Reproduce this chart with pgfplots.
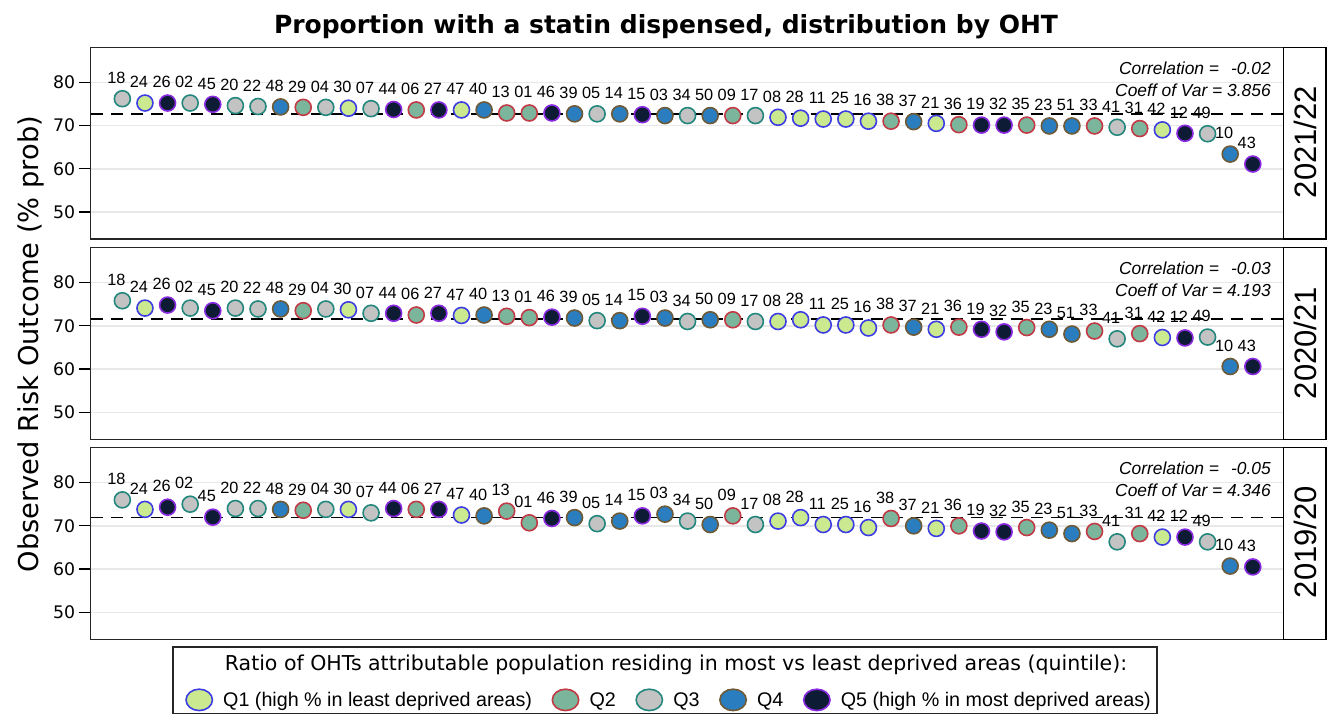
\documentclass[border=0pt]{standalone}
\usepackage{fontspec}
\setmainfont{Liberation Sans}
\newfontfamily\dv{DejaVu Sans}
\usepackage{pgfplots}
\usepackage{pgfplotstable}
\pgfplotsset{compat=1.18}
\definecolor{q1f}{HTML}{CBEA8F}\definecolor{q1e}{HTML}{3D3DE3}
\definecolor{q2f}{HTML}{7AB59C}\definecolor{q2e}{HTML}{C23A45}
\definecolor{q3f}{HTML}{C3C3C3}\definecolor{q3e}{HTML}{23877D}
\definecolor{q4f}{HTML}{2A7DBE}\definecolor{q4e}{HTML}{6E5A37}
\definecolor{q5f}{HTML}{0D1B35}\definecolor{q5e}{HTML}{8A2BE2}
% columns: position, OHT label, 2021/22, 2020/21, 2019/20
\pgfplotstableread{
i lab y1 y2 y3
2 24 75.2 74.1 73.8
11 30 74.0 73.7 73.8
16 47 73.6 72.4 72.5
30 08 71.9 71.0 71.1
31 28 71.7 71.4 71.9
32 11 71.5 70.2 70.3
33 25 71.5 70.2 70.3
34 16 71.0 69.5 69.6
37 21 70.5 69.2 69.4
47 42 69.0 67.3 67.4
}\tQa
\pgfplotstableread{
i lab y1 y2 y3
9 29 74.2 73.5 73.6
14 06 73.6 72.5 73.8
18 13 72.9 72.2 73.4
19 01 72.9 71.9 70.7
28 09 72.3 71.4 72.3
35 38 71.0 70.2 71.7
38 36 70.2 69.7 70.0
41 35 70.1 69.6 69.6
44 33 69.9 68.8 68.7
46 31 69.3 68.2 68.2
}\tQb
\pgfplotstableread{
i lab y1 y2 y3
1 18 76.2 75.8 76.0
4 02 75.2 74.1 75.0
6 20 74.6 74.1 74.0
7 22 74.4 73.9 74.0
10 04 74.2 73.9 73.8
12 07 73.9 72.9 73.0
22 05 72.7 71.2 70.5
26 34 72.3 71.0 71.1
29 17 72.3 71.0 70.3
45 41 69.6 67.0 66.3
49 49 68.1 67.4 66.3
}\tQc
\pgfplotstableread{
i lab y1 y2 y3
8 48 74.3 73.9 73.8
17 40 73.6 72.5 72.3
21 39 72.7 71.8 71.9
23 14 72.7 71.2 71.1
25 03 72.3 71.8 72.7
27 50 72.3 71.4 70.3
36 37 70.9 69.7 70.0
42 23 69.9 69.2 69.0
43 51 69.9 68.1 68.2
50 10 63.4 60.6 60.7
}\tQd
\pgfplotstableread{
i lab y1 y2 y3
3 26 75.2 74.8 74.3
5 45 74.9 73.5 72.0
13 44 73.7 72.9 74.0
15 27 73.6 72.9 73.8
20 46 72.9 72.0 71.7
24 15 72.5 72.2 72.3
39 19 70.1 69.2 68.8
40 32 70.1 68.6 68.6
48 12 68.2 67.2 67.4
51 43 61.1 60.6 60.5
}\tQe
\pgfplotsset{
 panel/.style={scale only axis, width=1192.6pt, height=191.7pt,
  xmin=-0.4, xmax=52.35, ymin=43.77, ymax=88.08,
  xtick=\empty, ytick={50,60,70,80}, ymajorgrids,
  grid style={line width=1.5pt, color=black!9},
  tick align=outside, ytick pos=left, major tick length=12pt,
  tick style={line width=1.2pt, black},
  axis line style={line width=1.3pt, black!85},
  yticklabel style={font=\dv\fontsize{17.3}{18}\selectfont},
  /pgf/number format/assume math mode=true, anchor=south west},
 pts/.style={only marks, mark=*, mark size=8pt, point meta=explicit symbolic,
  nodes near coords,
  nodes near coords style={anchor=center, xshift=-6pt, yshift=20.85pt, inner sep=0pt, text=black, font=\fontsize{16.3}{17}\selectfont},
  forget plot},
 qa/.style={pts, mark options={draw=q1e, fill=q1f, line width=1.6pt}},
 qb/.style={pts, mark options={draw=q2e, fill=q2f, line width=1.6pt}},
 qc/.style={pts, mark options={draw=q3e, fill=q3f, line width=1.6pt}},
 qd/.style={pts, mark options={draw=q4e, fill=q4f, line width=1.6pt}},
 qe/.style={pts, mark options={draw=q5e, fill=q5f, line width=1.6pt}},
 mean/.style={black, line width=1.3pt, dash pattern=on 12pt off 8pt, forget plot}
}
\newcommand\pts[1]{%
\addplot[qa] table[x=i, y=#1, meta=lab]{\tQa};
\addplot[qb] table[x=i, y=#1, meta=lab]{\tQb};
\addplot[qc] table[x=i, y=#1, meta=lab]{\tQc};
\addplot[qd] table[x=i, y=#1, meta=lab]{\tQd};
\addplot[qe] table[x=i, y=#1, meta=lab]{\tQe};}
\begin{document}
\begin{tikzpicture}
\path[use as bounding box] (0,0) rectangle (1331pt,-715pt);
\node[anchor=base, font=\dv\bfseries\fontsize{25}{27}\selectfont] at (666pt,-33.3pt) {Proportion with a statin dispensed, distribution by OHT};
\node[rotate=90, anchor=base, font=\dv\fontsize{27.3}{30}\selectfont] at (38pt,-344pt) {Observed Risk Outcome (\% prob)};
% panel 1
\begin{axis}[panel, at={(90.7pt,-239pt)}]
\pts{y1}
\addplot[mean] coordinates {(-0.4,72.63) (52.35,72.63)};
\end{axis}
% panel 2
\begin{axis}[panel, at={(90.7pt,-439.3pt)}]
\pts{y2}
\addplot[mean] coordinates {(-0.4,71.55) (52.35,71.55)};
\end{axis}
% panel 3
\begin{axis}[panel, at={(90.7pt,-639.3pt)},
 legend style={at={(axis description cs:0.0791,-0.316)}, anchor=west, draw=none, fill=none, inner sep=0pt,
  legend columns=5, font=\fontsize{19.7}{22}\selectfont, nodes={inner sep=0pt}, cells={anchor=west},
  /tikz/every odd column/.append style={column sep=10pt},
  /tikz/every even column/.append style={column sep=19.5pt}}]
\addlegendimage{legend image code/.code={\draw[draw=q1e, fill=q1f, line width=1.6pt] (14pt,0pt) ellipse [x radius=13.2pt, y radius=10.7pt];}}
\addlegendentry{Q1 (high \% in least deprived areas)}
\addlegendimage{legend image code/.code={\draw[draw=q2e, fill=q2f, line width=1.6pt] (14pt,0pt) ellipse [x radius=13.2pt, y radius=10.7pt];}}
\addlegendentry{Q2}
\addlegendimage{legend image code/.code={\draw[draw=q3e, fill=q3f, line width=1.6pt] (14pt,0pt) ellipse [x radius=13.2pt, y radius=10.7pt];}}
\addlegendentry{Q3}
\addlegendimage{legend image code/.code={\draw[draw=q4e, fill=q4f, line width=1.6pt] (14pt,0pt) ellipse [x radius=13.2pt, y radius=10.7pt];}}
\addlegendentry{Q4}
\addlegendimage{legend image code/.code={\draw[draw=q5e, fill=q5f, line width=1.6pt] (14pt,0pt) ellipse [x radius=13.2pt, y radius=10.7pt];}}
\addlegendentry{Q5 (high \% in most deprived areas)}
\pts{y3}
\addplot[mean] coordinates {(-0.4,71.94) (52.35,71.94)};
\end{axis}
% strips
\draw[line width=1.6pt] (1283.3pt,-47.3pt) rectangle (1326pt,-239pt);
\draw[line width=1.6pt] (1283.3pt,-247.3pt) rectangle (1326pt,-439.3pt);
\draw[line width=1.6pt] (1283.3pt,-447.3pt) rectangle (1326pt,-639.3pt);
\node[rotate=90, anchor=base, font=\fontsize{31}{33}\selectfont] at (1316.5pt,-142pt) {2021/22};
\node[rotate=90, anchor=base, font=\fontsize{31}{33}\selectfont] at (1316.5pt,-343pt) {2020/21};
\node[rotate=90, anchor=base, font=\fontsize{31}{33}\selectfont] at (1316.5pt,-542pt) {2019/20};
% stats
\node[anchor=base east, font=\itshape\fontsize{17.4}{19}\selectfont] at (1274.3pt,-74pt) {Correlation =\hspace{12pt}-0.02};
\node[anchor=base east, font=\itshape\fontsize{17.4}{19}\selectfont] at (1274.3pt,-96pt) {Coeff of Var = 3.856};
\node[anchor=base east, font=\itshape\fontsize{17.4}{19}\selectfont] at (1274.3pt,-274pt) {Correlation =\hspace{12pt}-0.03};
\node[anchor=base east, font=\itshape\fontsize{17.4}{19}\selectfont] at (1274.3pt,-296pt) {Coeff of Var = 4.193};
\node[anchor=base east, font=\itshape\fontsize{17.4}{19}\selectfont] at (1274.3pt,-474pt) {Correlation =\hspace{12pt}-0.05};
\node[anchor=base east, font=\itshape\fontsize{17.4}{19}\selectfont] at (1274.3pt,-496pt) {Coeff of Var = 4.346};
% legend
\draw[line width=1.2pt, black!85] (173pt,-647pt) rectangle (1157pt,-713.5pt);
\node[anchor=base, font=\dv\fontsize{20.5}{22}\selectfont] at (676pt,-670pt) {Ratio of OHTs attributable population residing in most vs least deprived areas (quintile):};
\end{tikzpicture}
\end{document}
